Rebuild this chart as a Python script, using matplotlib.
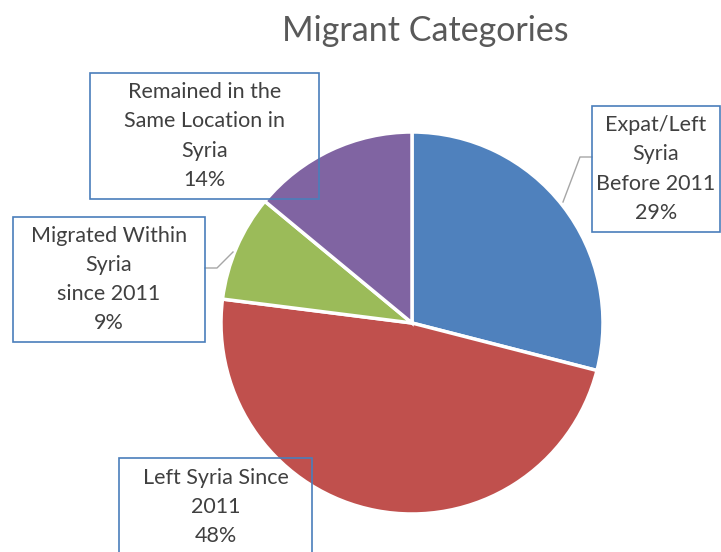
import matplotlib.pyplot as plt
from matplotlib.patches import Rectangle

plt.rcParams['font.family'] = ['Lato', 'DejaVu Sans']

# Share of respondents per migrant category (percent)
categories = ['Expat/Left\nSyria\nBefore 2011', 'Left Syria Since\n2011',
              'Migrated Within\nSyria\nsince 2011', 'Remained in the\nSame Location in\nSyria']
shares = [29, 48, 9, 14]
colors = ['#4F81BD', '#C0504D', '#9BBB59', '#8064A2']

W, H = 721, 552
fig = plt.figure(figsize=(W / 100, H / 100), dpi=100)
ax = fig.add_axes([0, 0, 1, 1])

# pie drawn in pixel-like coordinates (y measured from bottom)
ax.pie(shares, colors=colors, startangle=90, counterclock=False,
       center=(412, H - 323), radius=191, frame=True,
       wedgeprops=dict(edgecolor='white', linewidth=2.5))
ax.set_xlim(0, W)
ax.set_ylim(0, H)
ax.set_aspect('equal')
ax.axis('off')

# label boxes: (left, top, right, bottom) in pixels from top-left
boxes = [(592, 106, 720, 232), (119, 458, 312, 570),
         (13, 217, 205, 342), (90, 73, 319, 199)]
# leader lines for the outside labels
leaders = {0: [(592, 157), (580, 157), (563, 202)],
           2: [(205, 268), (217, 268), (233, 252)]}

for i, (name, val) in enumerate(zip(categories, shares)):
    x0, y0, x1, y1 = boxes[i]
    ax.add_patch(Rectangle((x0, H - y1), x1 - x0, y1 - y0, fill=False,
                           edgecolor='#4A7EBB', linewidth=1.2, zorder=5))
    lines = name.split('\n') + [f'{val}%']
    n = len(lines)
    cy = (y0 + y1) / 2 if i != 1 else 507
    for k, line in enumerate(lines):
        ty = cy + (k - (n - 1) / 2) * 29.3
        ax.text((x0 + x1) / 2, H - ty, line, ha='center', va='center',
                fontsize=15.5, color='#404040', zorder=6)
    if i in leaders:
        px, py = zip(*leaders[i])
        ax.plot(px, [H - p for p in py], color='#A6A6A6', linewidth=1.0, zorder=4)

ax.text(425, H - 31, 'Migrant Categories', ha='center', va='center',
        fontsize=24.5, color='#595959')

fig.savefig('out.png', dpi=100)
